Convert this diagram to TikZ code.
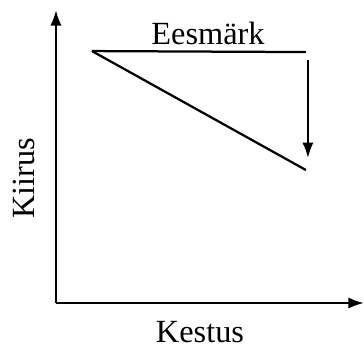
\documentclass[tikz,border=0pt]{standalone}
\usepackage{fontspec}
\setmainfont{Liberation Serif}
\usetikzlibrary{arrows.meta}
\tikzset{
	axis/.style={line width=1.6pt, -{Latex[length=11pt,width=8pt]}},
	plan/.style={line width=1.6pt},
	label/.style={font=\fontsize{23}{25}\selectfont, inner sep=0pt}
}

\begin{document}
\begin{tikzpicture}[scale=0.025]
			\useasboundingbox (0,0) rectangle (364,349);
			\coordinate (o) at (56,46);
			\coordinate (ytop) at (56,339);
			\coordinate (xend) at (364,46);
			\coordinate (start) at (92,298);
			\coordinate (goal) at (306,297);
			\coordinate (actual) at (306,179);
			\coordinate (drop) at (308,289);
			\coordinate (dropend) at (308,191);
			\draw [axis] (o) -- (ytop);
			\draw [axis] (o) -- (xend);
			\draw [plan] (start) -- (goal);
			\draw [plan] (start) -- (actual);
			\draw [axis] (drop) -- (dropend);
			\node[label] (target) at (208,316) {Eesmärk};
			\node[label, rotate=90] (speed) at (24,171) {Kiirus};
			\node[label] (duration) at (200,17) {Kestus};
	\end{tikzpicture}
\end{document}
